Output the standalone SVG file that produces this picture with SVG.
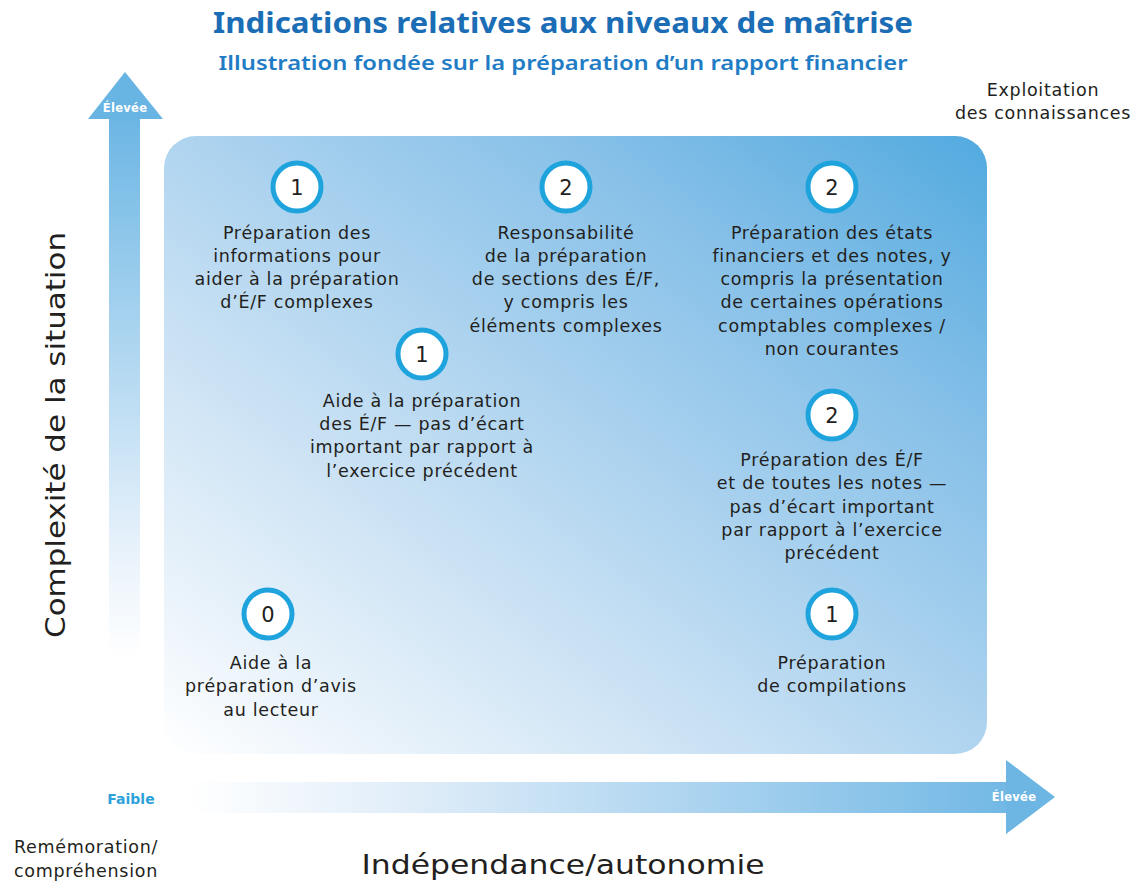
<svg xmlns="http://www.w3.org/2000/svg" width="1135" height="881" viewBox="0 0 1135 881">
  <defs>
    <linearGradient id="panelFill" x1="0" y1="1" x2="1" y2="0">
      <stop offset="0" stop-color="#ffffff"/>
      <stop offset="0.35" stop-color="#c9e1f4"/>
      <stop offset="0.75" stop-color="#86c0e8"/>
      <stop offset="1" stop-color="#52aadf"/>
    </linearGradient>
    <linearGradient id="vShaft" x1="0" y1="1" x2="0" y2="0">
      <stop offset="0" stop-color="#ffffff"/>
      <stop offset="0.2" stop-color="#e8f2fb"/>
      <stop offset="1" stop-color="#6cb6e4"/>
    </linearGradient>
    <linearGradient id="hShaft" x1="0" y1="0" x2="1" y2="0">
      <stop offset="0" stop-color="#ffffff"/>
      <stop offset="0.3" stop-color="#dcebf8"/>
      <stop offset="1" stop-color="#72b8e5"/>
    </linearGradient>
    <style>
      .ring { fill: #ffffff; stroke: #1ea3dd; stroke-width: 5; }
      .num { font-family: "DejaVu Sans", "Liberation Sans", sans-serif; font-size: 21px; fill: #231f20; text-anchor: middle; }
      .lbl { font-family: "DejaVu Sans", "Liberation Sans", sans-serif; font-size: 17.5px; letter-spacing: 0.7px; fill: #231f20; text-anchor: middle; }
      .axis { font-family: "DejaVu Sans", "Liberation Sans", sans-serif; font-size: 27px; fill: #231f20; text-anchor: middle; }
      .corner { font-family: "DejaVu Sans", "Liberation Sans", sans-serif; font-size: 17.5px; letter-spacing: 0.7px; fill: #231f20; text-anchor: middle; }
      .tag { font-family: "DejaVu Sans", "Liberation Sans", sans-serif; font-weight: bold; font-size: 11.5px; letter-spacing: 0.3px; fill: #ffffff; text-anchor: middle; }
    </style>
  </defs>

  <!-- headings -->
  <text x="563" y="33" font-family="Noto Sans, Liberation Sans, sans-serif" font-size="28" font-weight="bold" fill="#1b6db6" text-anchor="middle" textLength="700" lengthAdjust="spacingAndGlyphs">Indications relatives aux niveaux de maîtrise</text>
  <text x="563" y="70" font-family="Noto Sans, Liberation Sans, sans-serif" font-size="20.5" font-weight="600" fill="#1f7cc5" text-anchor="middle" textLength="689" lengthAdjust="spacingAndGlyphs">Illustration fondée sur la préparation d’un rapport financier</text>

  <!-- axes -->
  <g id="axis-vertical">
    <rect x="109" y="118" width="31" height="540" fill="url(#vShaft)"/>
    <polygon points="125,72 163,119 88,119" fill="#68b4e3"/>
    <text class="tag" x="125" y="112">Élevée</text>
  </g>
  <g id="axis-horizontal">
    <rect x="190" y="782" width="818" height="31" fill="url(#hShaft)"/>
    <polygon points="1006,760 1055,797 1006,834" fill="#6db6e4"/>
    <text class="tag" x="1014" y="801">Élevée</text>
    <text x="131" y="804" font-family="DejaVu Sans, Liberation Sans, sans-serif" font-size="14" font-weight="bold" fill="#2ea2dc" text-anchor="middle">Faible</text>
  </g>
  <text class="axis" transform="translate(65,435) rotate(-90)" textLength="406" lengthAdjust="spacingAndGlyphs">Complexité de la situation</text>
  <text class="axis" x="563" y="874" textLength="403" lengthAdjust="spacingAndGlyphs">Indépendance/autonomie</text>
  <text class="corner" x="86" y="853">Remémoration/</text>
  <text class="corner" x="86" y="877">compréhension</text>
  <text class="corner" x="1043" y="96">Exploitation</text>
  <text class="corner" x="1043" y="119">des connaissances</text>

  <!-- panel -->
  <rect id="panel" x="164" y="136" width="823" height="618" rx="32" fill="url(#panelFill)"/>

  <g id="connectors"/>

  <!-- nodes -->
  <g id="node-a">
    <circle class="ring" cx="297" cy="187" r="24"/>
    <text class="num" x="297" y="194.5">1</text>
    <text class="lbl" x="297" y="239">Préparation des</text>
    <text class="lbl" x="297" y="262">informations pour</text>
    <text class="lbl" x="297" y="285">aider à la préparation</text>
    <text class="lbl" x="297" y="308">d’É/F complexes</text>
  </g>
  <g id="node-b">
    <circle class="ring" cx="566" cy="187" r="24"/>
    <text class="num" x="566" y="194.5">2</text>
    <text class="lbl" x="566" y="239">Responsabilité</text>
    <text class="lbl" x="566" y="262">de la préparation</text>
    <text class="lbl" x="566" y="285">de sections des É/F,</text>
    <text class="lbl" x="566" y="308">y compris les</text>
    <text class="lbl" x="566" y="332">éléments complexes</text>
  </g>
  <g id="node-c">
    <circle class="ring" cx="832" cy="187" r="24"/>
    <text class="num" x="832" y="194.5">2</text>
    <text class="lbl" x="832" y="239">Préparation des états</text>
    <text class="lbl" x="832" y="262">financiers et des notes, y</text>
    <text class="lbl" x="832" y="285">compris la présentation</text>
    <text class="lbl" x="832" y="308">de certaines opérations</text>
    <text class="lbl" x="832" y="332">comptables complexes /</text>
    <text class="lbl" x="832" y="355">non courantes</text>
  </g>
  <g id="node-d">
    <circle class="ring" cx="422" cy="354" r="24"/>
    <text class="num" x="422" y="361.5">1</text>
    <text class="lbl" x="422" y="407">Aide à la préparation</text>
    <text class="lbl" x="422" y="430">des É/F — pas d’écart</text>
    <text class="lbl" x="422" y="453">important par rapport à</text>
    <text class="lbl" x="422" y="477">l’exercice précédent</text>
  </g>
  <g id="node-e">
    <circle class="ring" cx="832" cy="415" r="24"/>
    <text class="num" x="832" y="422.5">2</text>
    <text class="lbl" x="832" y="466">Préparation des É/F</text>
    <text class="lbl" x="832" y="489">et de toutes les notes —</text>
    <text class="lbl" x="832" y="513">pas d’écart important</text>
    <text class="lbl" x="832" y="536">par rapport à l’exercice</text>
    <text class="lbl" x="832" y="559">précédent</text>
  </g>
  <g id="node-f">
    <circle class="ring" cx="268" cy="614" r="24"/>
    <text class="num" x="268" y="621.5">0</text>
    <text class="lbl" x="271" y="669">Aide à la</text>
    <text class="lbl" x="271" y="692">préparation d’avis</text>
    <text class="lbl" x="271" y="716">au lecteur</text>
  </g>
  <g id="node-g">
    <circle class="ring" cx="832" cy="614" r="24"/>
    <text class="num" x="832" y="621.5">1</text>
    <text class="lbl" x="832" y="669">Préparation</text>
    <text class="lbl" x="832" y="692">de compilations</text>
  </g>
</svg>
